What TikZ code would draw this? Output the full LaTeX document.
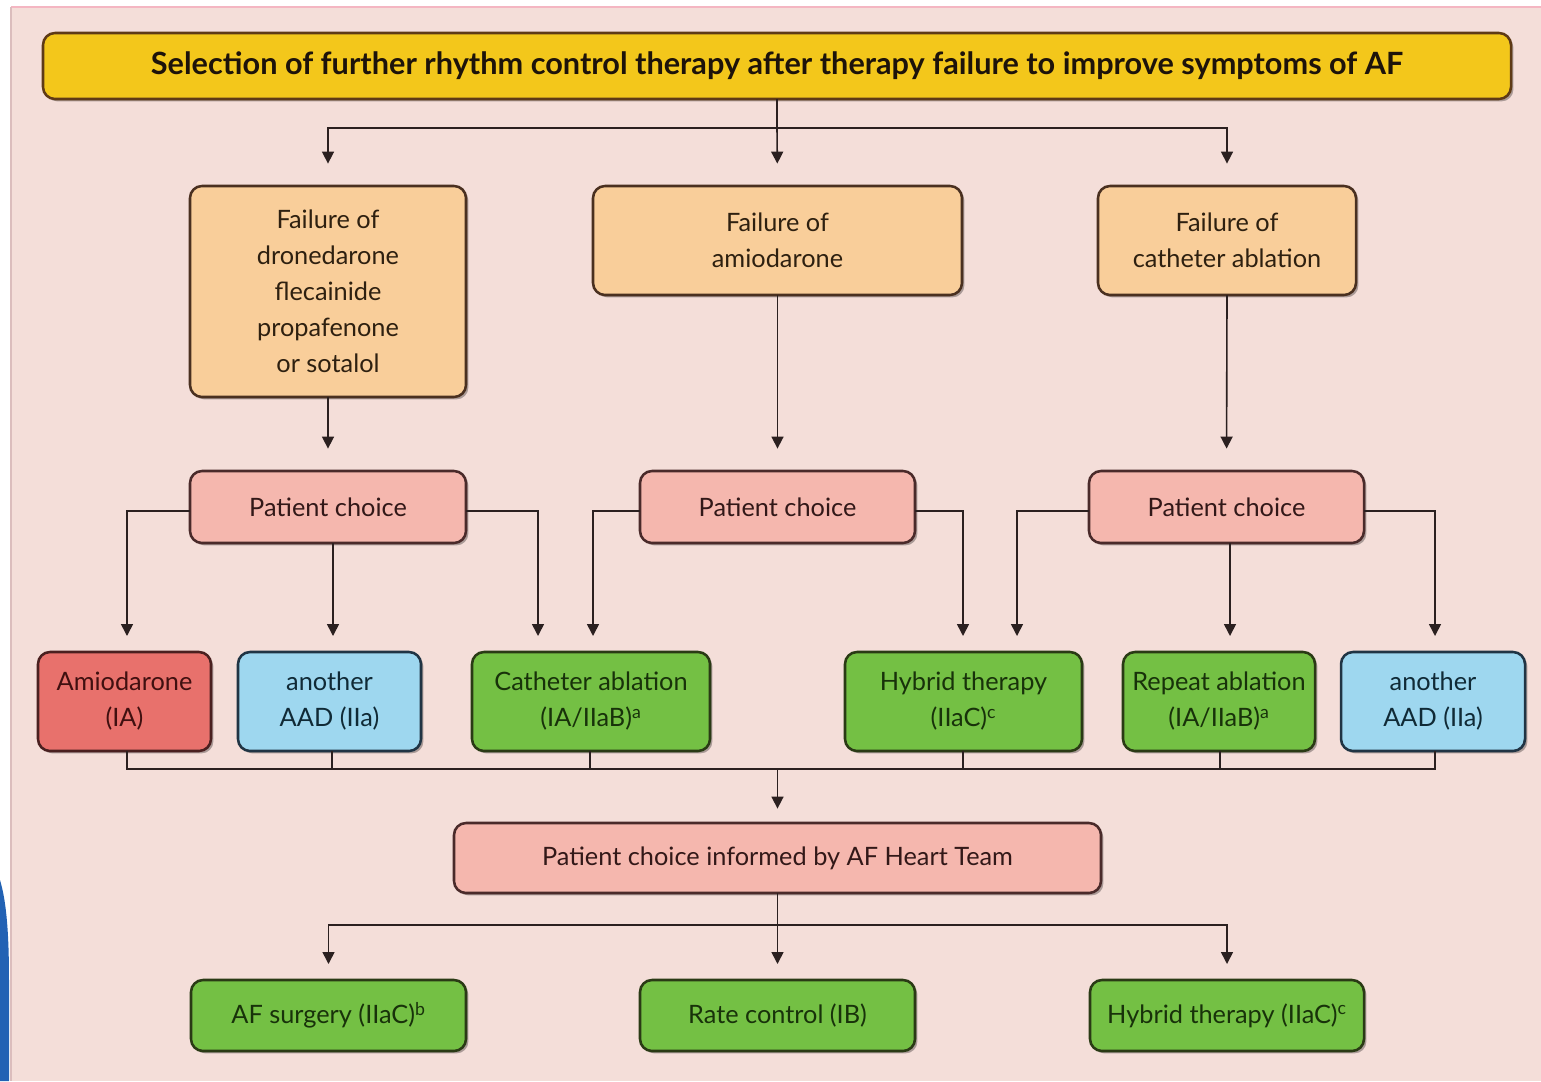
\documentclass[tikz,border=0pt]{standalone}
\usepackage{fontspec}
\setmainfont{Lato}
\usetikzlibrary{arrows.meta,shadows}

\definecolor{bgpink}{HTML}{F4DED9}
\definecolor{titlefill}{HTML}{F3C71B}
\definecolor{titleedge}{HTML}{5E3A16}
\definecolor{orangefill}{HTML}{F9CE9A}
\definecolor{orangeedge}{HTML}{4A3020}
\definecolor{orangetext}{HTML}{2E2010}
\definecolor{pinkfill}{HTML}{F5B7AE}
\definecolor{pinkedge}{HTML}{4A2A2A}
\definecolor{pinktext}{HTML}{321818}
\definecolor{redfill}{HTML}{E8716C}
\definecolor{rededge}{HTML}{4A2020}
\definecolor{redtext}{HTML}{401010}
\definecolor{bluefill}{HTML}{9ED7EF}
\definecolor{blueedge}{HTML}{203444}
\definecolor{bluetext}{HTML}{102A36}
\definecolor{greenfill}{HTML}{74C044}
\definecolor{greenedge}{HTML}{2A3A15}
\definecolor{greentext}{HTML}{18320A}
\definecolor{linecol}{HTML}{2B2020}
\definecolor{sideblue}{HTML}{2262B4}

\tikzset{
  box/.style={rounded corners=9pt, line width=1.9pt, inner sep=0pt, outer sep=0pt,
    align=center, font=\fontsize{19pt}{27pt}\selectfont,
    drop shadow={shadow xshift=1.8pt, shadow yshift=-1.8pt, opacity=0.3, fill=black}},
  titlebox/.style={box, fill=titlefill, draw=titleedge, text=black!85!brown,
    font=\fontsize{23pt}{26pt}\selectfont\bfseries},
  failbox/.style={box, fill=orangefill, draw=orangeedge, text=orangetext},
  choicebox/.style={box, fill=pinkfill, draw=pinkedge, text=pinktext},
  redbox/.style={box, fill=redfill, draw=rededge, text=redtext},
  bluebox/.style={box, fill=bluefill, draw=blueedge, text=bluetext},
  greenbox/.style={box, fill=greenfill, draw=greenedge, text=greentext},
  link/.style={draw=linecol, line width=1.2pt},
  arr/.style={link, -{Triangle[width=9pt,length=9pt]}}
}

% box from its corners (x1,y1)-(x2,y2), in pixel units
\newcommand\cornerbox[7]{%
  \node[#6, minimum width={(#4-#2)*0.75pt}, minimum height={(#5-#3)*0.75pt}]
    (#1) at ({(#2+#4)/2},{(#3+#5)/2}) {#7};}

\begin{document}
\begin{tikzpicture}[x=0.75pt,y=-0.75pt]
% page and frame
\useasboundingbox (0,0) rectangle (1541,1081);
\fill[white] (0,0) rectangle (1541,1081);
\fill[bgpink] (11,7) rectangle (1541,1081);
\draw[color=pink!70!purple!60, line width=1.5pt] (11,7) -- (1541,7);
\draw[color=gray!70!red!40, line width=1.5pt] (11,7) -- (11,1081);
\fill[sideblue] (0,880) .. controls (6,900) and (9,930) .. (9,980) -- (9,1081) -- (0,1081) -- cycle;

% title
\cornerbox{title}{43}{33}{1511}{99}{titlebox}{Selection of further rhythm control therapy after therapy failure to improve symptoms of AF}

% failure boxes
\cornerbox{failA}{190}{186}{466}{397}{failbox}{Failure of\\dronedarone\\flecainide\\propafenone\\or sotalol}
\cornerbox{failB}{593}{186}{962}{295}{failbox}{Failure of\\amiodarone}
\cornerbox{failC}{1098}{186}{1356}{295}{failbox}{Failure of\\catheter ablation}

% patient choice boxes
\cornerbox{pcA}{190}{471}{466}{543}{choicebox}{Patient choice}
\cornerbox{pcB}{640}{471}{915}{543}{choicebox}{Patient choice}
\cornerbox{pcC}{1089}{471}{1364}{543}{choicebox}{Patient choice}

% options
\cornerbox{amio}{38}{652}{211}{751}{redbox}{Amiodarone\\(IA)}
\cornerbox{aadA}{238}{652}{421}{751}{bluebox}{another\\AAD (IIa)}
\cornerbox{cath}{472}{652}{710}{751}{greenbox}{Catheter ablation\\(IA/IIaB)\textsuperscript{a}}
\cornerbox{hybA}{845}{652}{1082}{751}{greenbox}{Hybrid therapy\\(IIaC)\textsuperscript{c}}
\cornerbox{rep}{1123}{652}{1315}{751}{greenbox}{Repeat ablation\\(IA/IIaB)\textsuperscript{a}}
\cornerbox{aadC}{1341}{652}{1525}{751}{bluebox}{another\\AAD (IIa)}

% heart team
\cornerbox{team}{454}{823}{1101}{893}{choicebox}{Patient choice informed by AF Heart Team}

% final options
\cornerbox{surg}{191}{980}{466}{1051}{greenbox}{AF surgery (IIaC)\textsuperscript{b}}
\cornerbox{rate}{640}{980}{915}{1051}{greenbox}{Rate control (IB)}
\cornerbox{hybB}{1090}{980}{1364}{1051}{greenbox}{Hybrid therapy (IIaC)\textsuperscript{c}}

% junction points
\coordinate (j1) at (title.south |- 0,128);
\coordinate (j2) at (team.north |- 0,769);
\coordinate (j3) at (team.south |- 0,925);

% title to failure boxes
\draw[link] (title.south) -- (j1);
\draw[arr, shorten >=14\pgflinewidth] (j1) -| (failA.north);
\draw[arr, shorten >=14\pgflinewidth] (j1) -- (failB.north);
\draw[arr, shorten >=14\pgflinewidth] (j1) -| (failC.north);

% failure to patient choice
\draw[arr, shorten >=14\pgflinewidth] (failA.south) -- (pcA.north);
\draw[arr, shorten >=14\pgflinewidth] (failB.south) -- (pcB.north);
\draw[arr, shorten >=14\pgflinewidth] (failC.south) -- (pcC.north);

% patient choice to options
\coordinate (tA1) at (127,636);
\coordinate (tA2) at (333,636);
\coordinate (tA3) at (538,636);
\coordinate (tB1) at (593,636);
\coordinate (tB2) at (963,636);
\coordinate (tC1) at (1017,636);
\coordinate (tC2) at (1230,636);
\coordinate (tC3) at (1435,636);
\draw[arr] ([yshift=-3]pcA.west) -| (tA1);
\draw[arr] (pcA.south -| tA2) -- (tA2);
\draw[arr] ([yshift=-3]pcA.east) -| (tA3);
\draw[arr] ([yshift=-3]pcB.west) -| (tB1);
\draw[arr] ([yshift=-3]pcB.east) -| (tB2);
\draw[arr] ([yshift=-3]pcC.west) -| (tC1);
\draw[arr] (pcC.south -| tC2) -- (tC2);
\draw[arr] ([yshift=-3]pcC.east) -| (tC3);

% options to heart team
\draw[link] (amio.south -| 127,0) |- (j2) -| (aadC.south -| 1435,0);
\draw[link] (aadA.south -| 332,0) -- (332,769);
\draw[link] (cath.south -| 590,0) -- (590,769);
\draw[link] (hybA.south -| 963,0) -- (963,769);
\draw[link] (rep.south -| 1220,0) -- (1220,769);
\draw[arr, shorten >=9\pgflinewidth] (j2) -- (team.north);

% heart team to final options
\draw[link] (team.south) -- (j3);
\draw[arr, shorten >=10\pgflinewidth] (j3) -| (surg.north);
\draw[arr, shorten >=10\pgflinewidth] (j3) -- (rate.north);
\draw[arr, shorten >=10\pgflinewidth] (j3) -| (hybB.north);
\end{tikzpicture}
\end{document}
